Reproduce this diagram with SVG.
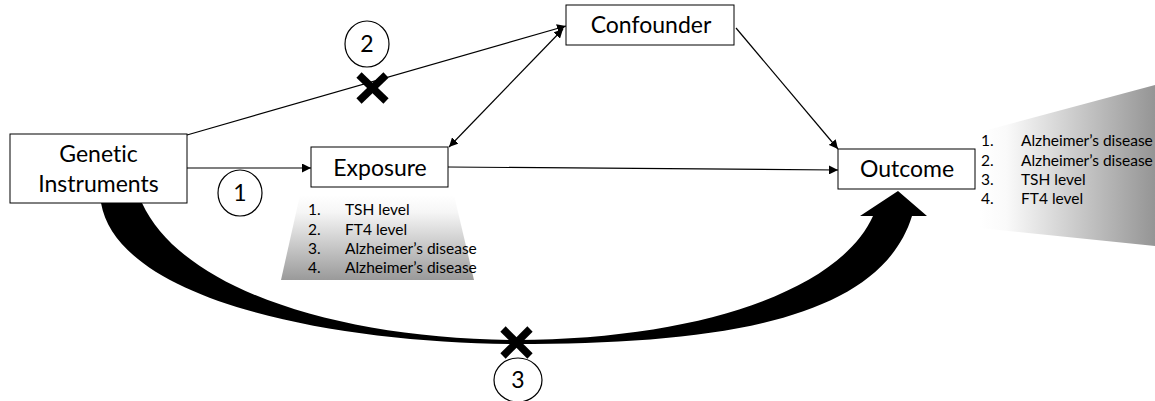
<svg xmlns="http://www.w3.org/2000/svg" width="1155" height="401" viewBox="0 0 1155 401">
<style>
text{font-variant-ligatures:none;font-feature-settings:"liga" 0,"dlig" 0}
.box{fill:#fff;stroke:#000;stroke-width:1}
.lbl{font-family:Lato,"Liberation Sans",sans-serif;font-size:23px;fill:#000;text-anchor:middle}
.lst{font-family:Lato,"Liberation Sans",sans-serif;font-size:15.5px;fill:#000}
.edge{stroke:#000;stroke-width:1.2;fill:none}
.circ{fill:#fff;stroke:#000;stroke-width:1.2}
.num{font-family:Lato,"Liberation Sans",sans-serif;font-size:23px;fill:#000;text-anchor:middle}
.x{stroke:#000;stroke-width:7.5;stroke-linecap:butt}
</style>
<defs>
<marker id="ah" viewBox="0 0 10 10" refX="10" refY="5" markerWidth="9" markerHeight="9" markerUnits="userSpaceOnUse" orient="auto-start-reverse">
<path d="M0,0 L10,5 L0,10 Z" fill="#000"/>
</marker>
<linearGradient id="gExp" x1="0" y1="0" x2="0" y2="1">
<stop offset="0" stop-color="#ffffff"/>
<stop offset="0.2" stop-color="#f6f6f6"/>
<stop offset="1" stop-color="#9a9a9a"/>
</linearGradient>
<linearGradient id="gOut" x1="0" y1="0" x2="1" y2="0">
<stop offset="0" stop-color="#ffffff"/>
<stop offset="0.15" stop-color="#fafafa"/>
<stop offset="1" stop-color="#959595"/>
</linearGradient>
</defs>
<g id="backgrounds">
<polygon points="300,195 454,195 474,280 281,280" fill="url(#gExp)"/>
<polygon points="980,132 1155,85 1155,246 980,228" fill="url(#gOut)"/>
</g>
<g id="connectors">
<path class="edge" d="M187,168 L311,168" marker-end="url(#ah)"/>
<path class="edge" d="M187,135 L566,26" marker-end="url(#ah)"/>
<path class="edge" d="M563,29 L449,147" marker-start="url(#ah)" marker-end="url(#ah)"/>
<path class="edge" d="M736,28 L838,149" marker-end="url(#ah)"/>
<path class="edge" d="M448,167 L838,170" marker-end="url(#ah)"/>
<path id="bigArrow" d="M101,190 L101,203 C118,300 330,343 516,344 C720,344 880,320 912,216 L927,216 L898,191 L860,216 L873,216 C840,290 700,339 516,340 C340,339 182,290 142,203 L142,190 Z" fill="#000"/>
</g>
<g id="node-genetic">
<rect class="box" x="10" y="134" width="177" height="69"/>
<text class="lbl" x="98.5" y="162">Genetic</text>
<text class="lbl" x="98.5" y="192">Instruments</text>
</g>
<g id="node-exposure">
<rect class="box" x="311" y="147" width="137" height="40"/>
<text class="lbl" x="380" y="176">Exposure</text>
</g>
<g id="node-confounder">
<rect class="box" x="566" y="5" width="168" height="40"/>
<text class="lbl" x="651" y="33">Confounder</text>
</g>
<g id="node-outcome">
<rect class="box" x="838" y="149" width="137" height="40"/>
<text class="lbl" x="907" y="177">Outcome</text>
</g>
<g id="exposure-list">
<text class="lst" x="308" y="215">1.</text><text class="lst" x="345" y="215">TSH level</text>
<text class="lst" x="308" y="234.5">2.</text><text class="lst" x="345" y="234.5">FT4 level</text>
<text class="lst" x="308" y="254">3.</text><text class="lst" x="345" y="254">Alzheimer’s disease</text>
<text class="lst" x="308" y="273">4.</text><text class="lst" x="345" y="273">Alzheimer’s disease</text>
</g>
<g id="outcome-list">
<text class="lst" x="981" y="146">1.</text><text class="lst" x="1021" y="146">Alzheimer’s disease</text>
<text class="lst" x="981" y="165.5">2.</text><text class="lst" x="1021" y="165.5">Alzheimer’s disease</text>
<text class="lst" x="981" y="185">3.</text><text class="lst" x="1021" y="185">TSH level</text>
<text class="lst" x="981" y="204">4.</text><text class="lst" x="1021" y="204">FT4 level</text>
</g>
<g id="label-1">
<ellipse class="circ" cx="240" cy="193" rx="22" ry="23"/>
<text class="num" x="240" y="201">1</text>
</g>
<g id="label-2">
<ellipse class="circ" cx="367" cy="44" rx="22" ry="23"/>
<text class="num" x="367" y="52">2</text>
</g>
<g id="label-3">
<ellipse class="circ" cx="518" cy="380" rx="24" ry="22"/>
<text class="num" x="518" y="388">3</text>
</g>
<g id="cross-2">
<line class="x" x1="359" y1="75" x2="386" y2="101"/>
<line class="x" x1="386" y1="75" x2="359" y2="101"/>
</g>
<g id="cross-3">
<line class="x" x1="503" y1="329" x2="530" y2="356"/>
<line class="x" x1="530" y1="329" x2="503" y2="356"/>
</g>
</svg>
